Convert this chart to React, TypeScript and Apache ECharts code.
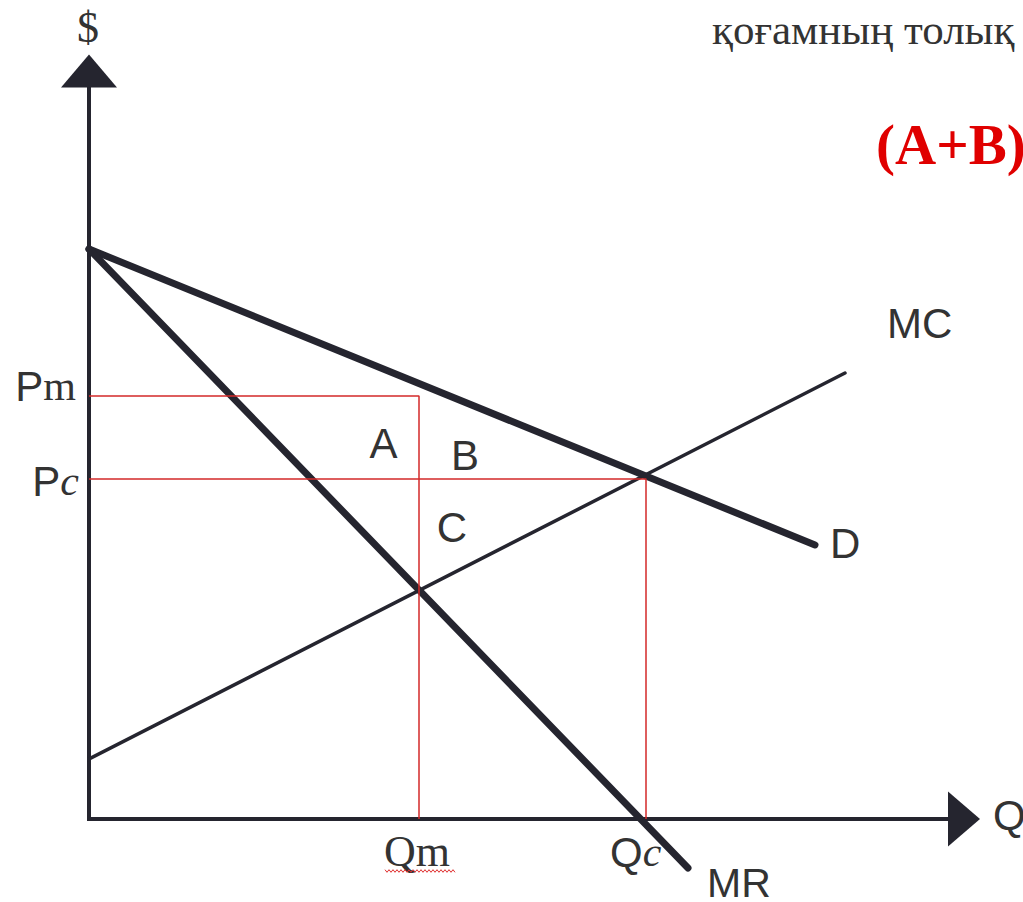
import React, { useEffect, useRef } from "react";
import * as echarts from "echarts";

// Key levels (quantity, price)
const qm = 3.3;
const qc = 5.57;
const pm = 4.23;
const pc = 3.4;

// Curves: quantities and prices at both ends
const demandQ = [0, 7.26];
const demandP = [5.7, 2.74];
const mrQ = [0, 5.99];
const mrP = [5.7, -0.49];
const mcQ = [-0.04, 7.56];
const mcP = [0.58, 4.46];

// Guide lines (monopoly / competitive)
const monopolyGuide = [
  [0, pm],
  [qm, pm],
  [qm, 0],
];
const competitiveGuide = [
  [0, pc],
  [qc, pc],
  [qc, 0],
];

const INK = "#25252f";
const TXT = "#333333";
const RED = "#d42a2a";
const SANS = "Liberation Sans";
const SERIF = "Liberation Serif";

const zip = (a: number[], b: number[]) => a.map((v, i) => [v, b[i]]);

function txt(text: string, x: number, y: number, align: string, extra: any = {}) {
  return {
    type: "text",
    x,
    y,
    silent: true,
    style: {
      text,
      fill: TXT,
      fontFamily: SANS,
      fontSize: 42,
      align,
      textAlign: align,
      verticalAlign: "middle",
      textVerticalAlign: "middle",
      ...extra,
    },
  };
}

function richLabel(text: string, x: number, y: number, align: string, size: number) {
  return {
    type: "text",
    x,
    y,
    silent: true,
    style: {
      text,
      align,
      textAlign: align,
      verticalAlign: "middle",
      textVerticalAlign: "middle",
      fontSize: size,
      fill: TXT,
      rich: {
        s: { fontFamily: SANS, fontSize: size, fill: TXT },
        r: { fontFamily: SERIF, fontSize: size, fill: TXT },
        i: { fontFamily: SERIF, fontStyle: "italic", fontSize: size, fill: TXT },
      },
    },
  };
}

export default function App() {
  const ref = useRef<HTMLDivElement>(null);

  useEffect(() => {
    if (!ref.current) return;
    const chart = echarts.init(ref.current, undefined, { renderer: "svg" });

    const wavy: number[][] = [];
    for (let x = 385, k = 0; x <= 456; x += 2, k++) {
      wavy.push([x, 871 + (k % 2 === 0 ? -1.3 : 1.3)]);
    }

    const option: any = {
      animation: false,
      backgroundColor: "#ffffff",
      grid: { left: 89, top: 71, width: 875, height: 748, containLabel: false },
      xAxis: {
        type: "value",
        min: 0,
        max: 8.75,
        axisLine: {
          show: true,
          symbol: ["none", "triangle"],
          symbolSize: [55, 32],
          lineStyle: { color: INK, width: 4, cap: "square" },
        },
        axisTick: { show: false },
        axisLabel: { show: false },
        splitLine: { show: false },
      },
      yAxis: {
        type: "value",
        min: 0,
        max: 7.48,
        axisLine: {
          show: true,
          symbol: ["none", "triangle"],
          symbolSize: [56, 33],
          lineStyle: { color: INK, width: 4, cap: "square" },
        },
        axisTick: { show: false },
        axisLabel: { show: false },
        splitLine: { show: false },
      },
      series: [
        {
          name: "MC",
          type: "line",
          data: zip(mcQ, mcP),
          symbol: "none",
          clip: false,
          silent: true,
          z: 3,
          lineStyle: { color: INK, width: 3.5, cap: "round" },
        },
        {
          name: "D",
          type: "line",
          data: zip(demandQ, demandP),
          symbol: "none",
          clip: false,
          silent: true,
          z: 3,
          lineStyle: { color: INK, width: 7, cap: "round" },
        },
        {
          name: "MR",
          type: "line",
          data: zip(mrQ, mrP),
          symbol: "none",
          clip: false,
          silent: true,
          z: 3,
          lineStyle: { color: INK, width: 7, cap: "round" },
        },
        {
          name: "Pm-Qm",
          type: "line",
          data: monopolyGuide,
          symbol: "none",
          clip: false,
          silent: true,
          z: 5,
          lineStyle: { color: RED, width: 1.5 },
        },
        {
          name: "Pc-Qc",
          type: "line",
          data: competitiveGuide,
          symbol: "none",
          clip: false,
          silent: true,
          z: 5,
          lineStyle: { color: RED, width: 1.5 },
        },
      ],
      graphic: [
        txt("$", 88, 27, "center", { fontFamily: SERIF, fontSize: 44 }),
        txt("қоғамның толық", 712, 29, "left", { fontFamily: SERIF, fontSize: 43 }),
        txt("(A+B)", 876, 144, "left", {
          fontFamily: SERIF,
          fontSize: 57,
          fontWeight: "bold",
          fill: "#e00000",
        }),
        txt("MC", 887, 323, "left"),
        txt("D", 830, 543, "left"),
        txt("MR", 707, 883, "left", { fontSize: 41 }),
        txt("Q", 993, 815, "left"),
        txt("A", 383.5, 443, "center"),
        txt("B", 465, 455, "center"),
        txt("C", 452, 527, "center"),
        richLabel("{s|P}{r|m}", 76, 386, "right", 42),
        richLabel("{s|P}{i|c}", 79, 481, "right", 42),
        richLabel("{r|Qm}", 384, 851, "left", 44),
        richLabel("{s|Q}{i|c}", 610, 852, "left", 42),
        {
          type: "polyline",
          silent: true,
          shape: { points: wavy },
          style: { stroke: "#e03030", lineWidth: 1, fill: "none" },
        },
      ],
    };

    chart.setOption(option);
    return () => chart.dispose();
  }, []);

  return (
    <div
      ref={ref}
      style={{ position: "absolute", left: 0, top: 0, width: 1023, height: 902, background: "#fff" }}
    />
  );
}
